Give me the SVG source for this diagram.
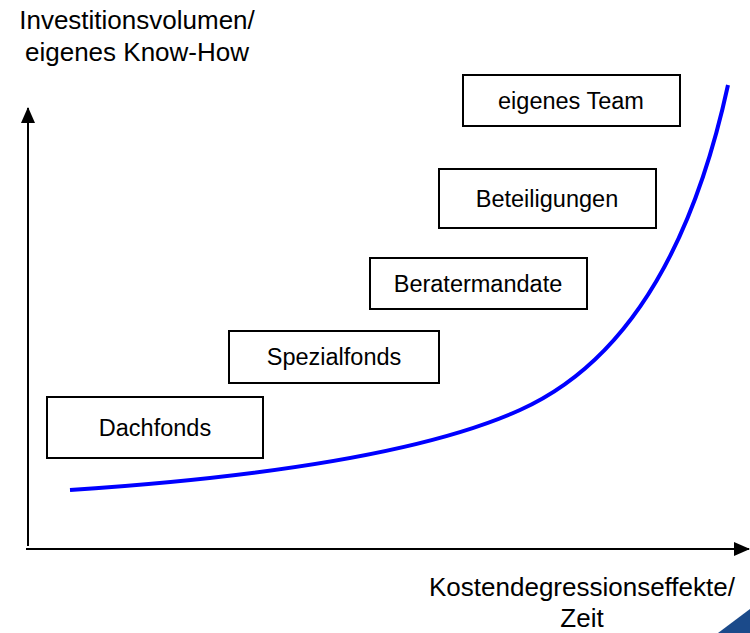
<svg xmlns="http://www.w3.org/2000/svg" width="750" height="633" viewBox="0 0 750 633">
<style>
.box{fill:#fff;stroke:#000;stroke-width:2}
.t{font-family:"Liberation Sans",Arial,sans-serif;font-size:23.5px;fill:#000;text-anchor:middle}
.ax{font-family:"Liberation Sans",Arial,sans-serif;font-size:26px;fill:#000;text-anchor:middle}
.axis{stroke:#000;stroke-width:2;fill:none}
</style>
<defs>
<marker id="arr" markerWidth="16" markerHeight="14" refX="15" refY="7" orient="auto" markerUnits="userSpaceOnUse">
<path d="M0,0 L16,7 L0,14 Z" fill="#000"/>
</marker>
</defs>
<rect width="750" height="633" fill="#fff"/>
<g id="connectors">
<line class="axis" x1="28" y1="546" x2="28" y2="108" marker-end="url(#arr)"/>
<line class="axis" x1="26" y1="549" x2="749" y2="549" marker-end="url(#arr)"/>
<path d="M70,490 C250,478 420,455 520,410 C620,365 690,260 728,85" fill="none" stroke="#0000ff" stroke-width="4"/>
</g>
<g id="ylabel">
<text class="ax" x="137" y="29">Investitionsvolumen/</text>
<text class="ax" x="137" y="61">eigenes Know-How</text>
</g>
<g id="xlabel">
<text class="ax" x="582" y="596">Kostendegressionseffekte/</text>
<text class="ax" x="582" y="627">Zeit</text>
</g>
<g id="dachfonds">
<rect class="box" x="47" y="397" width="216" height="61"/>
<text class="t" x="155" y="436">Dachfonds</text>
</g>
<g id="spezialfonds">
<rect class="box" x="229" y="331" width="210" height="52"/>
<text class="t" x="334" y="365">Spezialfonds</text>
</g>
<g id="beratermandate">
<rect class="box" x="370" y="258" width="217" height="51"/>
<text class="t" x="478" y="292">Beratermandate</text>
</g>
<g id="beteiligungen">
<rect class="box" x="439" y="169" width="217" height="59"/>
<text class="t" x="547" y="207">Beteiligungen</text>
</g>
<g id="eigenes-team">
<rect class="box" x="463" y="75" width="217" height="51"/>
<text class="t" x="571" y="109">eigenes Team</text>
</g>
<polygon points="718,633 750,609 750,633" fill="#1b4a8a"/>
</svg>
